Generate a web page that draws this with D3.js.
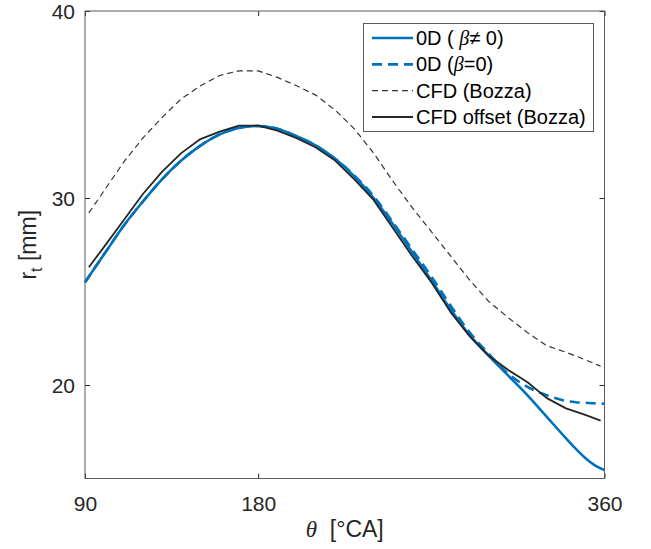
<!DOCTYPE html>
<html>
<head>
<meta charset="utf-8">
<script src="https://cdn.jsdelivr.net/npm/d3@7"></script>
<style>
  body { margin: 0; background: #fff; }
  svg { display: block; }
  .tick text { font-family: "Liberation Sans", Arial, sans-serif; font-size: 21px; fill: #262626; }
  .tick line { stroke: #262626; }
</style>
</head>
<body>
<div id="chart"></div>
<script>
/* -------------------------------------------------------------------------- */
// data
const theta0D = [90, 100, 110, 120, 130, 140, 150, 160, 170, 180, 190, 200, 210, 220, 230,
                 240, 250, 260, 270, 280, 290, 300, 310, 320, 330, 340, 345, 350, 355, 360];
const rtBetaNonZero = [25.5, 27.0, 28.5, 29.8, 31.0, 32.0, 32.8, 33.4, 33.75, 33.85, 33.7, 33.3, 32.8, 32.1, 31.15,
                       30.0, 28.6, 27.1, 25.6, 24.05, 22.65, 21.55, 20.5, 19.45, 18.3, 17.15, 16.6, 16.1, 15.7, 15.45];
const rtBetaZero = [25.5, 27.0, 28.5, 29.8, 31.0, 32.0, 32.8, 33.4, 33.75, 33.85, 33.7, 33.3, 32.8, 32.1, 31.2,
                    30.1, 28.7, 27.25, 25.8, 24.25, 22.8, 21.65, 20.6, 19.9, 19.45, 19.15, 19.08, 19.05, 19.02, 19.0];

const thetaCFD = [92, 100, 110, 120, 130, 140, 150, 160, 170, 180, 190, 200, 210, 220, 230,
                  240, 250, 260, 270, 280, 290, 300, 310, 320, 330, 340, 350, 358];
const rtCFD = [29.2, 30.4, 31.9, 33.2, 34.3, 35.3, 36.0, 36.55, 36.8, 36.8, 36.45, 36.0, 35.5, 34.7, 33.7,
               32.4, 30.9, 29.5, 28.2, 26.9, 25.6, 24.45, 23.6, 22.8, 22.1, 21.75, 21.35, 21.0];
const rtCFDOffset = [26.3, 27.4, 28.8, 30.2, 31.4, 32.4, 33.15, 33.55, 33.87, 33.87, 33.6, 33.2, 32.7, 32.0, 31.0,
                     29.9, 28.4, 26.9, 25.5, 23.9, 22.6, 21.55, 20.8, 20.15, 19.3, 18.75, 18.4, 18.1];

const xTicks = [90, 180, 360];
const yTicks = [20, 30, 40];

const series = [
  { label: '0D', beta: '\u2260 0', sep: ' ( ', x: theta0D, y: rtBetaNonZero, col: '#0072BD', w: 2.6, dash: null, curve: d3.curveMonotoneX },
  { label: '0D', beta: '=0', sep: ' (', x: theta0D, y: rtBetaZero, col: '#0072BD', w: 2.6, dash: '10,6', curve: d3.curveMonotoneX },
  { label: 'CFD (Bozza)', x: thetaCFD, y: rtCFD, col: '#333333', w: 1.2, dash: '6,4', curve: d3.curveLinear },
  { label: 'CFD offset (Bozza)', x: thetaCFD, y: rtCFDOffset, col: '#262626', w: 1.8, dash: null, curve: d3.curveLinear }
];

/* -------------------------------------------------------------------------- */
const W = 651, H = 549;
const L = 85, R = 604.5, T = 11, B = 478.5;

const x = d3.scaleLinear().domain([90, 360]).range([L, R]);
const y = d3.scaleLinear().domain([15, 40]).range([B, T]);

const svg = d3.select('#chart').append('svg')
  .attr('width', W).attr('height', H);

// curves
series.forEach(function(s) {
  let pts = s.x.map((t, i) => [t, s.y[i]]);
  let line = d3.line().x(d => x(d[0])).y(d => y(d[1])).curve(s.curve);
  svg.append('path')
    .datum(pts)
    .attr('d', line)
    .attr('fill', 'none')
    .attr('stroke', s.col)
    .attr('stroke-width', s.w)
    .attr('stroke-dasharray', s.dash)
    .attr('stroke-linejoin', 'round');
});

// axes (MATLAB style, ticks inside, box)
let gx = svg.append('g').attr('transform', `translate(0,${B})`)
  .call(d3.axisBottom(x).tickValues(xTicks).tickSizeInner(-5).tickSizeOuter(0).tickPadding(18));
let gy = svg.append('g').attr('transform', `translate(${L},0)`)
  .call(d3.axisLeft(y).tickValues(yTicks).tickSizeInner(-5).tickSizeOuter(0).tickPadding(10));
let gx2 = svg.append('g').attr('transform', `translate(0,${T})`)
  .call(d3.axisTop(x).tickValues(xTicks).tickSizeInner(-5).tickSizeOuter(0).tickFormat(''));
let gy2 = svg.append('g').attr('transform', `translate(${R},0)`)
  .call(d3.axisRight(y).tickValues(yTicks).tickSizeInner(-5).tickSizeOuter(0).tickFormat(''));
[gx, gy, gx2, gy2].forEach(g => g.select('.domain').remove());
gy.selectAll('.tick text').attr('dy', '0.34em');

svg.append('rect')
  .attr('x', L).attr('y', T).attr('width', R - L).attr('height', B - T)
  .attr('fill', 'none').attr('stroke', '#5a5a5a').attr('stroke-width', 1);

// axis labels
let xl = svg.append('text')
  .attr('x', (L + R) / 2).attr('y', 537)
  .attr('text-anchor', 'middle')
  .style('font-family', '"Liberation Sans", Arial, sans-serif')
  .style('font-size', '23px').attr('fill', '#262626');
xl.append('tspan').text('\u03b8')
  .style('font-family', '"Liberation Serif", "Times New Roman", serif')
  .style('font-style', 'italic');
xl.append('tspan').text('\u00a0\u00a0[\u00b0CA]');

let yl = svg.append('text')
  .attr('transform', `translate(36,${(T + B) / 2}) rotate(-90)`)
  .attr('text-anchor', 'middle')
  .style('font-family', '"Liberation Sans", Arial, sans-serif')
  .style('font-size', '23px').attr('fill', '#262626');
yl.append('tspan').text('r');
yl.append('tspan').text('t').attr('dy', 6).style('font-size', '16px');
yl.append('tspan').text(' [mm]').attr('dy', -6);

// legend
const lg = svg.append('g');
lg.append('rect')
  .attr('x', 363.5).attr('y', 23.5).attr('width', 230).attr('height', 108)
  .attr('fill', '#fff').attr('stroke', '#5a5a5a').attr('stroke-width', 1);

const rowY = d3.scalePoint().domain(series.map((s, i) => i)).range([38, 117]);

series.forEach(function(s, i) {
  let ry = rowY(i);
  lg.append('line')
    .attr('x1', 372).attr('x2', 413).attr('y1', ry).attr('y2', ry)
    .attr('stroke', s.col).attr('stroke-width', s.w)
    .attr('stroke-dasharray', s.dash);
  let t = lg.append('text')
    .attr('x', 416).attr('y', ry).attr('dy', '0.35em')
    .style('font-family', '"Liberation Sans", Arial, sans-serif')
    .style('font-size', '20px').attr('fill', '#000');
  if (s.beta) {
    t.append('tspan').text(s.label + s.sep);
    t.append('tspan').text('\u03b2')
      .style('font-family', '"Liberation Serif", "Times New Roman", serif')
      .style('font-style', 'italic');
    t.append('tspan').text(s.beta + ')');
  } else {
    t.text(s.label);
  }
});
</script>
</body>
</html>
